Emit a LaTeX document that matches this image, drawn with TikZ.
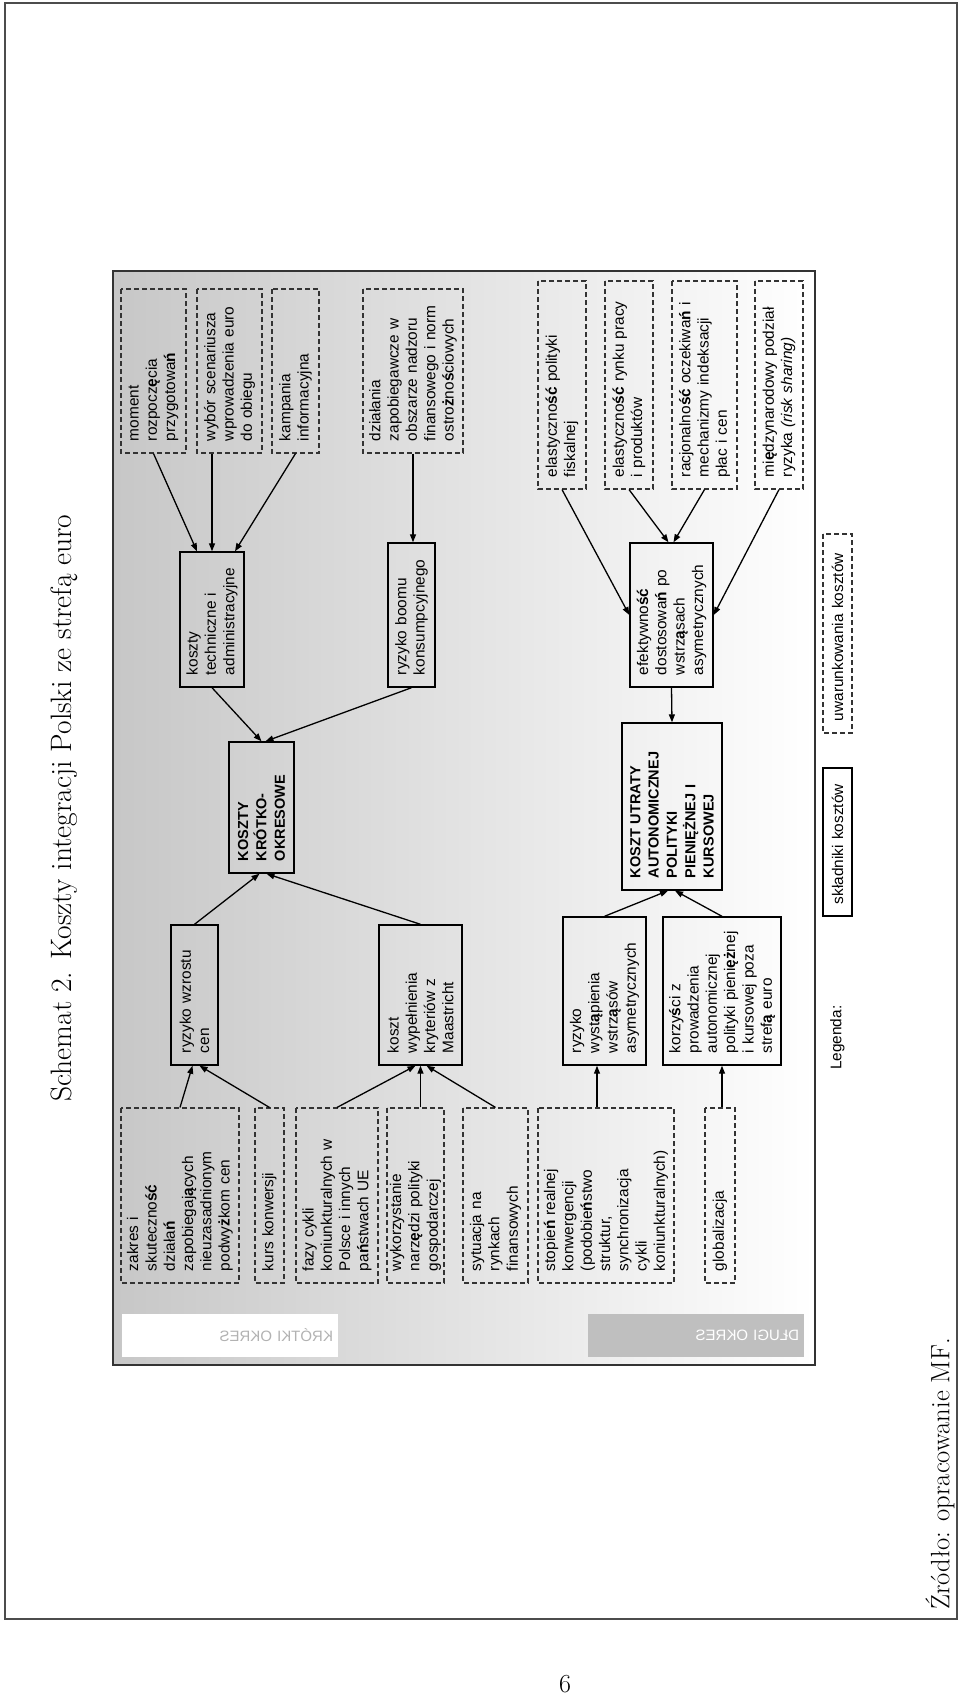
\documentclass[tikz,border=0pt]{standalone}
\usepackage{fontspec}
\setsansfont{Liberation Sans}
\usetikzlibrary{arrows.meta,calc}
\hyphenpenalty=10000
\newcommand{\plb}[1]{\textbf{#1}}
\tikzset{
  card/.style={
    rectangle, rotate=90, align=left, inner xsep=12pt, inner ysep=2pt,
    font=\sffamily\fontsize{15.4}{18.3}\selectfont
  },
  dbox/.style={card, draw=black!80, line width=1.1pt, dash pattern=on 5pt off 3pt},
  sbox/.style={card, draw=black, line width=1.4pt},
  hbox/.style={sbox, font=\sffamily\bfseries\fontsize{14.5}{18.3}\selectfont},
  tag/.style={rectangle, xscale=-1, align=left, inner xsep=5pt,
    minimum height=43pt, text width=206pt,
    font=\sffamily\fontsize{15}{18}\selectfont},
  arr/.style={-{Triangle[length=8pt,width=6pt]}, line width=1.3pt}
}

\begin{document}
\begin{tikzpicture}[x=1pt, y=-1pt]
  \useasboundingbox (0,0) rectangle (960,1698);

  % page frame and shaded panel
  \draw[black!70, line width=1.2pt] (5,3) rectangle (957,1619);
  \shadedraw[left color=black!22, right color=white, draw=black!80, line width=1.5pt]
    (113,271) rectangle (815,1365);

  % title, source, page number
  \node[rotate=90, font=\fontsize{29.5}{34}\selectfont] (title) at (64,808)
    {Schemat 2. Koszty integracji Polski ze strefą euro};
  \node[rotate=90, anchor=west, inner sep=0pt, font=\fontsize{26.6}{31}\selectfont]
    (src) at (940,1610) {Źródło: opracowanie MF.};
  \node[font=\fontsize{26}{30}\selectfont] (pagenum) at (565,1684) {6};

  % period tags
  \node[tag, fill=white, text=black!30] (krotki) at (230,1335.5) {KRÓTKI OKRES};
  \node[tag, fill=black!25, text=white] (dlugi) at (696,1335.5) {DŁUGI OKRES};

  % top row (uwarunkowania)
  \node[dbox, text width=140pt, minimum height=65pt] (moment) at (153.5,371)
    {moment\\rozpocz\plb{ę}cia\\przygotowa\plb{ń}};
  \node[dbox, text width=140pt, minimum height=65pt] (scen) at (229.5,371)
    {wybór scenariusza\\wprowadzenia euro\\do obiegu};
  \node[dbox, text width=140pt, minimum height=47pt] (kamp) at (295.5,371)
    {kampania\\informacyjna};
  \node[dbox, text width=140pt, minimum height=100pt] (nadzor) at (413,371)
    {działania\\zapobiegawcze w\\obszarze nadzoru\\finansowego i norm\\ostro\plb{ż}no\plb{ś}ciowych};
  \node[dbox, text width=184pt, minimum height=48pt] (fisk) at (562,385)
    {elastyczno\plb{ść} polityki\\fiskalnej};
  \node[dbox, text width=184pt, minimum height=48pt] (rynek) at (629,385)
    {elastyczno\plb{ść} rynku pracy\\i produktów};
  \node[dbox, text width=184pt, minimum height=65pt] (racj) at (704.5,385)
    {racjonalno\plb{ść} oczekiwa\plb{ń} i\\mechanizmy indeksacji\\płac i cen};
  \node[dbox, text width=184pt, minimum height=48pt] (risk) at (779,385)
    {mi\plb{ę}dzynarodowy podział\\ryzyka \textit{(risk sharing)}};

  % second row (skladniki)
  \node[sbox, text width=111pt, minimum height=64pt] (techn) at (212,619.5)
    {koszty\\techniczne i\\administracyjne};
  \node[sbox, text width=120pt, minimum height=47pt] (boom) at (411.5,615)
    {ryzyko boomu\\konsumpcyjnego};
  \node[sbox, text width=120pt, minimum height=83pt] (efekt) at (671.5,615)
    {efektywno\plb{ść}\\dostosowa\plb{ń} po\\wstrz\plb{ą}sach\\asymetrycznych};

  % main costs
  \node[hbox, text width=107pt, minimum height=65pt] (kk) at (261.5,807.5)
    {KOSZTY\\KRÓTKO-\\OKRESOWE};
  \node[hbox, text width=143pt, minimum height=100pt] (ku) at (672,806.5)
    {KOSZT UTRATY\\AUTONOMICZNEJ\\POLITYKI\\PIENIĘŻNEJ I\\KURSOWEJ};

  % third row
  \node[sbox, text width=116pt, minimum height=47pt] (wzrost) at (194.5,995)
    {ryzyko wzrostu\\cen};
  \node[sbox, text width=116pt, minimum height=83pt] (maast) at (420.5,995)
    {koszt\\wypełnienia\\kryteriów z\\Maastricht};
  \node[sbox, text width=124pt, minimum height=83pt] (wstrz) at (604.5,991)
    {ryzyko\\wyst\plb{ą}pienia\\wstrz\plb{ą}sów\\asymetrycznych};
  \node[sbox, text width=124pt, minimum height=118pt] (korz) at (722,991)
    {korzy\plb{ś}ci z\\prowadzenia\\autonomicznej\\polityki pieni\plb{ęż}nej\\i kursowej poza\\stref\plb{ą} euro};

  % bottom row (uwarunkowania)
  \node[dbox, text width=151pt, minimum height=118pt] (zakres) at (180,1195.5)
    {zakres i\\skuteczno\plb{ść}\\działa\plb{ń}\\zapobiegaj\plb{ą}cych\\nieuzasadnionym\\podwy\plb{ż}kom cen};
  \node[dbox, text width=151pt, minimum height=29pt] (kurs) at (269.5,1195.5)
    {kurs konwersji};
  \node[dbox, text width=151pt, minimum height=82pt] (fazy) at (337,1195.5)
    {fazy cykli\\koniunkturalnych w\\Polsce i innych\\pa\plb{ń}stwach UE};
  \node[dbox, text width=151pt, minimum height=57pt] (narz) at (415.5,1195.5)
    {wykorzystanie\\narz\plb{ę}dzi polityki\\gospodarczej};
  \node[dbox, text width=151pt, minimum height=65pt] (rynki) at (495.5,1195.5)
    {sytuacja na\\rynkach\\finansowych};
  \node[dbox, text width=151pt, minimum height=136pt] (konw) at (606,1195.5)
    {stopie\plb{ń} realnej\\konwergencji\\(podobie\plb{ń}stwo\\struktur,\\synchronizacja\\cykli\\koniunkturalnych)};
  \node[dbox, text width=151pt, minimum height=30pt] (glob) at (720,1195.5)
    {globalizacja};

  % legend
  \node[dbox, text width=175pt, minimum height=29pt] (legB) at (837.5,633.5)
    {uwarunkowania kosztów};
  \node[sbox, text width=124pt, minimum height=29pt] (legA) at (837.5,842)
    {składniki kosztów};
  \node[card, anchor=west, inner xsep=0pt] (legtxt) at (837.5,1070) {Legenda:};

  % arrows, short-term side
  \draw[arr] (moment.west) -- ($(techn.east)+(-15,0)$);
  \draw[arr] (scen.west -| techn.east) -- (techn.east);
  \draw[arr] (kamp.west) -- ($(techn.east)+(23,0)$);
  \draw[arr] (nadzor.west) -- (nadzor.west |- boom.east);
  \draw[arr] (techn.west) -- (kk.east);
  \draw[arr] (boom.west) -- ($(kk.east)+(4,0)$);
  \draw[arr] (wzrost.east) -- ($(kk.west)+(-2,0)$);
  \draw[arr] (maast.east) -- ($(kk.west)+(5,0)$);
  \draw[arr] (zakres.east) -- ($(wzrost.west)+(-2,0)$);
  \draw[arr] (kurs.east) -- ($(wzrost.west)+(5,0)$);
  \draw[arr] (fazy.east) -- ($(maast.west)+(-5,0)$);
  \draw[arr] (narz.east -| maast.west) -- (maast.west);
  \draw[arr] (rynki.east) -- ($(maast.west)+(6,0)$);

  % arrows, long-term side
  \draw[arr] (fisk.west) -- (efekt.north);
  \draw[arr] (rynek.west) -- ($(efekt.east)+(-3,0)$);
  \draw[arr] (racj.west) -- ($(efekt.east)+(2,0)$);
  \draw[arr] (risk.west) -- (efekt.south);
  \draw[arr] (efekt.west) -- (ku.east);
  \draw[arr] (wstrz.east) -- ($(ku.west)+(-4,0)$);
  \draw[arr] (korz.east) -- ($(ku.west)+(3,0)$);
  \draw[arr] ($(konw.east)+(-9,0)$) -- ($(wstrz.west)+(-7.5,0)$);
  \draw[arr] (glob.east -| korz.west) -- (korz.west);
\end{tikzpicture}
\end{document}
